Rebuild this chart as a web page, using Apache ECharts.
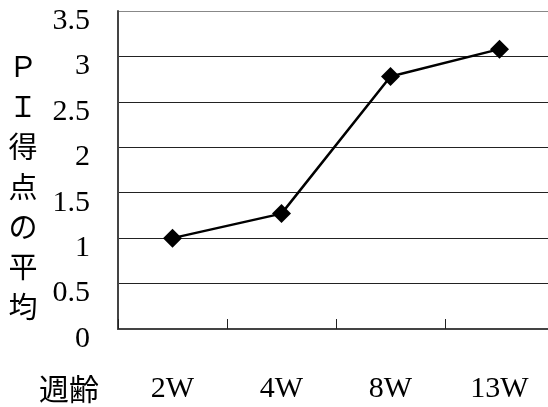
<!DOCTYPE html>
<html>
<head>
<meta charset="utf-8">
<script src="https://cdn.jsdelivr.net/npm/echarts@6/dist/echarts.min.js"></script>
<style>html,body{margin:0;padding:0;background:#fff;overflow:hidden;width:548px;height:407px}#c{width:560px;height:407px}</style>
</head>
<body>
<div id="c"></div>
<script>
var categories = ['2W', '4W', '8W', '13W'];
var piMeans = [1.0, 1.27, 2.78, 3.08];
var yTitle = 'ＰＩ得点の平均';
var xTitle = '週齢';

var chart = echarts.init(document.getElementById('c'), null, {renderer: 'canvas'});
chart.setOption({
  animation: false,
  backgroundColor: '#fff',
  grid: {left: 118, right: 6, top: 11, bottom: 78, containLabel: false},
  xAxis: {
    type: 'category',
    data: categories,
    boundaryGap: true,
    axisLine: {show: true, lineStyle: {color: '#444', width: 2}},
    axisTick: {show: true, inside: true, length: 10, alignWithLabel: false, lineStyle: {color: '#222', width: 1}},
    axisLabel: {color: '#000', fontFamily: 'Liberation Serif', fontSize: 30, margin: 45},
    splitLine: {show: false}
  },
  yAxis: {
    type: 'value',
    min: 0, max: 3.5, interval: 0.5,
    axisLine: {show: true, lineStyle: {color: '#444', width: 2}},
    axisTick: {show: false},
    axisLabel: {color: '#000', fontFamily: 'Liberation Serif', fontSize: 30, margin: 28, verticalAlign: 'top', lineHeight: 20},
    splitLine: {show: true, lineStyle: {color: ['#222', '#222', '#222', '#222', '#222', '#222', '#222', '#888'], width: 1.2}}
  },
  graphic: [
    {type: 'text', left: 39, top: 374, style: {text: xTitle, fontFamily: 'Noto Sans CJK JP', fontSize: 30, fill: '#000'}},
    {type: 'text', x: 23, y: 46, style: {text: yTitle.split('').join('\n'), fontFamily: 'Noto Sans CJK JP', fontSize: 29, lineHeight: 40.2, fill: '#000', textAlign: 'center', textVerticalAlign: 'top'}}
  ],
  series: [{
    type: 'line',
    data: piMeans,
    symbol: 'diamond',
    symbolSize: 19,
    lineStyle: {color: '#000', width: 2.5},
    itemStyle: {color: '#000'}
  }]
});
</script>
</body>
</html>
